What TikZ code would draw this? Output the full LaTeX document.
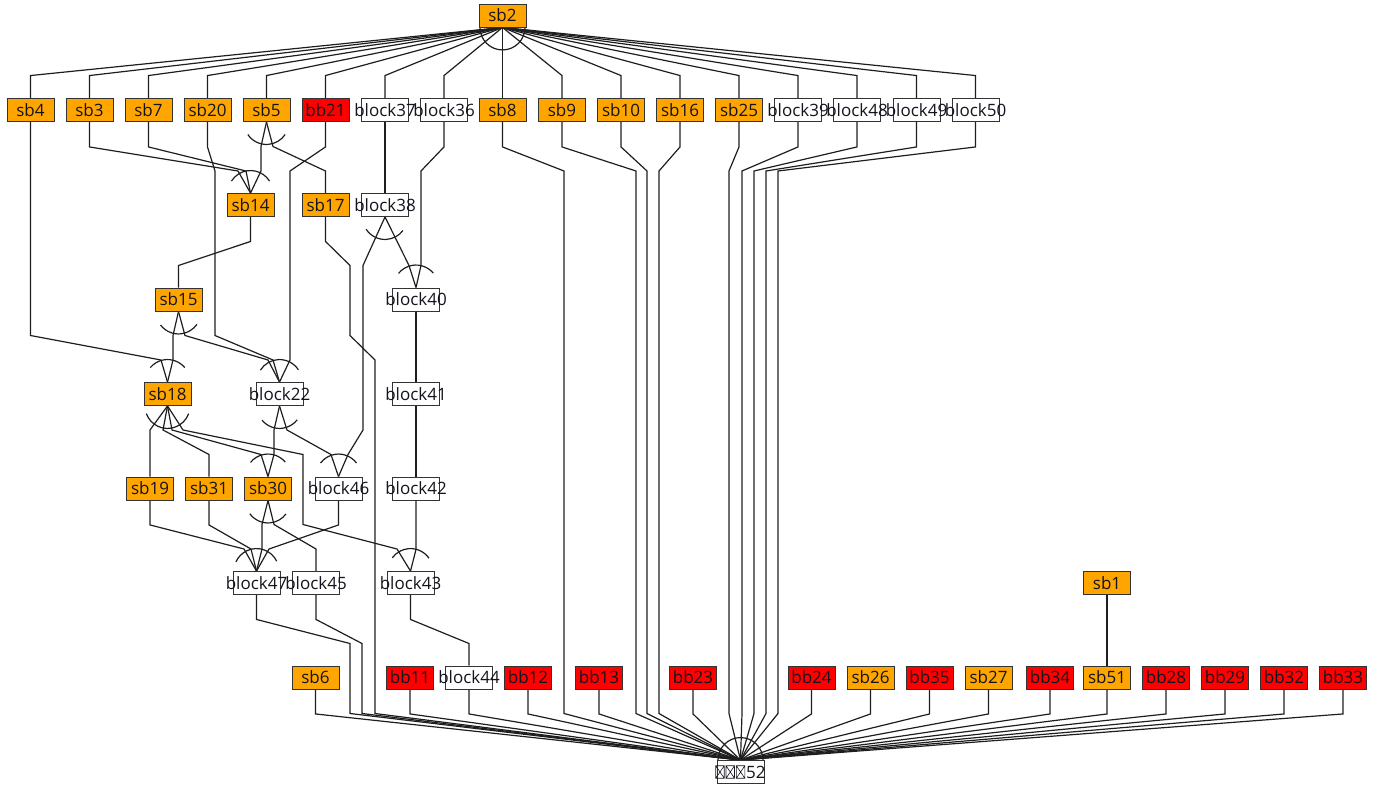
\documentclass[tikz,border=0pt]{standalone}
\usepackage{fontspec}
\setmainfont{Open Sans}
\usetikzlibrary{backgrounds}

\definecolor{sborange}{HTML}{FFA500}
\definecolor{bbred}{HTML}{FF0000}
\definecolor{boxline}{HTML}{333333}
\definecolor{wirecol}{HTML}{1E1E1E}
\definecolor{labeltext}{HTML}{14141E}

\newcommand{\lbl}[1]{\makebox[0pt]{#1}}
\newcommand{\tofu}{\tikz[x=1pt,y=1pt,baseline=0pt]\draw[line width=0.6pt] (0,0) rectangle (8.5,12.5) (0,0) -- (8.5,12.5) (0,12.5) -- (8.5,0);}
\newcommand{\fan}[3]{\draw[link] (#1) ++(#2:22.5pt) arc[start angle=#2, end angle=#3, radius=22.5pt];}

\begin{document}
\begin{tikzpicture}[x=1pt,y=1pt]
\tikzset{
  cfgnode/.style={rectangle,draw=boxline,line width=0.9pt,minimum width=47pt,minimum height=23pt,inner sep=0pt,font=\fontsize{17}{19}\selectfont,text=labeltext},
  sbblock/.style={cfgnode,fill=sborange},
  bbblock/.style={cfgnode,fill=bbred},
  plainblock/.style={cfgnode,fill=white},
  link/.style={draw=wirecol,line width=1.2pt}
}
\useasboundingbox (0,0) rectangle (1378,-784);

% entry
\node[sbblock] (sb2) at (502.5,-15.5) {sb2};
% first row
\node[sbblock] (sb4) at (30.5,-110) {sb4};
\node[sbblock] (sb3) at (89.5,-110) {sb3};
\node[sbblock] (sb7) at (148.5,-110) {sb7};
\node[sbblock] (sb20) at (207.5,-110) {sb20};
\node[sbblock] (sb5) at (266.5,-110) {sb5};
\node[bbblock] (bb21) at (325.5,-110) {bb21};
\node[plainblock] (block37) at (385,-110) {\lbl{block37}};
\node[plainblock] (block36) at (444,-110) {\lbl{block36}};
\node[sbblock] (sb8) at (502.5,-110) {sb8};
\node[sbblock] (sb9) at (562,-110) {sb9};
\node[sbblock] (sb10) at (621,-110) {sb10};
\node[sbblock] (sb16) at (680,-110) {sb16};
\node[sbblock] (sb25) at (739,-110) {sb25};
\node[plainblock] (block39) at (798,-110) {\lbl{block39}};
\node[plainblock] (block48) at (857,-110) {\lbl{block48}};
\node[plainblock] (block49) at (916.5,-110) {\lbl{block49}};
\node[plainblock] (block50) at (975.5,-110) {\lbl{block50}};
% middle rows
\node[sbblock] (sb14) at (250.5,-205) {sb14};
\node[sbblock] (sb17) at (325.5,-205) {sb17};
\node[plainblock] (block38) at (385,-205) {\lbl{block38}};
\node[sbblock] (sb15) at (178.5,-299.5) {sb15};
\node[plainblock] (block40) at (416,-299.5) {\lbl{block40}};
\node[sbblock] (sb18) at (167.5,-394) {sb18};
\node[plainblock] (block22) at (279.5,-394) {\lbl{block22}};
\node[plainblock] (block41) at (416,-394) {\lbl{block41}};
\node[sbblock] (sb19) at (150,-488.5) {sb19};
\node[sbblock] (sb31) at (209,-488.5) {sb31};
\node[sbblock] (sb30) at (268,-488.5) {sb30};
\node[plainblock] (block46) at (338.5,-488.5) {\lbl{block46}};
\node[plainblock] (block42) at (416,-488.5) {\lbl{block42}};
\node[plainblock] (block47) at (256.5,-583) {\lbl{block47}};
\node[plainblock] (block45) at (316,-583) {\lbl{block45}};
\node[plainblock] (block43) at (410.5,-583) {\lbl{block43}};
\node[sbblock] (sb1) at (1107,-583) {sb1};
% last row
\node[sbblock] (sb6) at (315.5,-677.5) {sb6};
\node[bbblock] (bb11) at (410,-677.5) {bb11};
\node[plainblock] (block44) at (469,-677.5) {\lbl{block44}};
\node[bbblock] (bb12) at (528,-677.5) {bb12};
\node[bbblock] (bb13) at (599,-677.5) {bb13};
\node[bbblock] (bb23) at (693,-677.5) {bb23};
\node[bbblock] (bb24) at (811.5,-677.5) {bb24};
\node[sbblock] (sb26) at (870.5,-677.5) {sb26};
\node[bbblock] (bb35) at (929.5,-677.5) {bb35};
\node[sbblock] (sb27) at (988.5,-677.5) {sb27};
\node[bbblock] (bb34) at (1050,-677.5) {bb34};
\node[sbblock] (sb51) at (1107,-677.5) {sb51};
\node[bbblock] (bb28) at (1166,-677.5) {bb28};
\node[bbblock] (bb29) at (1225,-677.5) {bb29};
\node[bbblock] (bb32) at (1284,-677.5) {bb32};
\node[bbblock] (bb33) at (1343,-677.5) {bb33};
% exit
\node[plainblock] (n52) at (740.5,-772) {\lbl{\tofu\kern1.2pt\tofu\kern1.2pt\tofu\kern1pt 52}};

\begin{scope}[on background layer]
% fan into sb2
\draw[link] (sb4.north) -- ++(0,22.5) -- (sb2.south);
\draw[link] (sb3.north) -- ++(0,22.5) -- (sb2.south);
\draw[link] (sb7.north) -- ++(0,22.5) -- (sb2.south);
\draw[link] (sb20.north) -- ++(0,22.5) -- (sb2.south);
\draw[link] (sb5.north) -- ++(0,22.5) -- (sb2.south);
\draw[link] (bb21.north) -- ++(0,22.5) -- (sb2.south);
\draw[link] (block37.north) -- ++(0,22.5) -- (sb2.south);
\draw[link] (block36.north) -- ++(0,22.5) -- (sb2.south);
\draw[link] (sb8.north) -- (sb2.south);
\draw[link] (sb9.north) -- ++(0,22.5) -- (sb2.south);
\draw[link] (sb10.north) -- ++(0,22.5) -- (sb2.south);
\draw[link] (sb16.north) -- ++(0,22.5) -- (sb2.south);
\draw[link] (sb25.north) -- ++(0,22.5) -- (sb2.south);
\draw[link] (block39.north) -- ++(0,22.5) -- (sb2.south);
\draw[link] (block48.north) -- ++(0,22.5) -- (sb2.south);
\draw[link] (block49.north) -- ++(0,22.5) -- (sb2.south);
\draw[link] (block50.north) -- ++(0,22.5) -- (sb2.south);
% below the first row
\draw[link] (sb3.south) -- ++(0,-25) -- (238,-171) -- (sb14.north);
\draw[link] (sb7.south) -- ++(0,-25) -- (246,-171) -- (sb14.north);
\draw[link] (sb5.south) -- (261,-146.5) -- (261,-171) -- (sb14.north);
\draw[link] (sb5.south) -- (273,-146.5) -- (325.5,-171) -- (sb17.north);
\draw[link] (sb4.south) -- (30.5,-335.5) -- (161,-360) -- (sb18.north);
\draw[link] (sb20.south) -- ++(0,-25) -- (215,-171) -- (215,-335.5) -- (273,-360) -- (block22.north);
\draw[link] (bb21.south) -- ++(0,-25) -- (290,-171) -- (290,-360) -- (block22.north);
\draw[link] (block37.south) -- (block38.north);
\draw[link] (block36.south) -- ++(0,-25) -- (421,-171) -- (421,-265.5) -- (block40.north);
\draw[link] (sb8.south) -- ++(0,-25) -- (564,-171) -- (564,-713.5) -- (n52.north);
\draw[link] (sb9.south) -- ++(0,-25) -- (636,-171) -- (636,-713.5) -- (n52.north);
\draw[link] (sb10.south) -- ++(0,-25) -- (647,-171) -- (647,-713.5) -- (n52.north);
\draw[link] (sb16.south) -- ++(0,-25) -- (659,-171) -- (659,-713.5) -- (n52.north);
\draw[link] (sb25.south) -- ++(0,-25) -- (729,-171) -- (729,-713.5) -- (n52.north);
\draw[link] (block39.south) -- ++(0,-25) -- (742,-171) -- (742,-713.5) -- (n52.north);
\draw[link] (block48.south) -- ++(0,-25) -- (754,-171) -- (754,-713.5) -- (n52.north);
\draw[link] (block49.south) -- ++(0,-25) -- (766,-171) -- (766,-713.5) -- (n52.north);
\draw[link] (block50.south) -- ++(0,-25) -- (778,-171) -- (778,-713.5) -- (n52.north);
% second row
\draw[link] (sb14.south) -- ++(0,-24.5) -- (178.5,-265.5) -- (sb15.north);
\draw[link] (sb17.south) -- ++(0,-24.5) -- (350,-265.5) -- (350,-335.5) -- (375,-360) -- (375,-713.5) -- (n52.north);
\draw[link] (block38.south) -- (409,-265.5) -- (block40.north);
\draw[link] (block38.south) -- (363,-265.5) -- (363,-430) -- (348,-454.5) -- (block46.north);
% third row
\draw[link] (sb15.south) -- (173,-335.5) -- (173,-360) -- (sb18.north);
\draw[link] (sb15.south) -- (185,-335.5) -- (268,-360) -- (block22.north);
\draw[link] (block40.south) -- (block41.north);
% fourth row
\draw[link] (block41.south) -- (block42.north);
\draw[link] (sb18.south) -- (150,-430) -- (sb19.north);
\draw[link] (sb18.south) -- (163,-430) -- (209,-454.5) -- (sb31.north);
\draw[link] (sb18.south) -- (172,-430) -- (261,-454.5) -- (sb30.north);
\draw[link] (sb18.south) -- (183,-430) -- (303,-454.5) -- (303,-524.5) -- (397,-549) -- (block43.north);
\draw[link] (block22.south) -- (274,-430) -- (274,-454.5) -- (sb30.north);
\draw[link] (block22.south) -- (287,-430) -- (331,-454.5) -- (block46.north);
% fifth row
\draw[link] (sb19.south) -- ++(0,-24.5) -- (244,-549) -- (block47.north);
\draw[link] (sb31.south) -- ++(0,-24.5) -- (251,-549) -- (block47.north);
\draw[link] (sb30.south) -- (262,-524.5) -- (262,-549) -- (block47.north);
\draw[link] (sb30.south) -- (274,-524.5) -- (316,-549) -- (block45.north);
\draw[link] (block46.south) -- ++(0,-24.5) -- (269,-549) -- (block47.north);
\draw[link] (block42.south) -- ++(0,-49) -- (block43.north);
% sixth row
\draw[link] (block47.south) -- ++(0,-24.5) -- (350,-643.5) -- (350,-713.5) -- (n52.north);
\draw[link] (block45.south) -- ++(0,-24.5) -- (362,-643.5) -- (362,-713.5) -- (n52.north);
\draw[link] (block43.south) -- ++(0,-24.5) -- (469,-643.5) -- (block44.north);
\draw[link] (sb1.south) -- (sb51.north);
% fan into the exit
\draw[link] (sb6.south) -- ++(0,-24.5) -- (n52.north);
\draw[link] (bb11.south) -- ++(0,-24.5) -- (n52.north);
\draw[link] (block44.south) -- ++(0,-24.5) -- (n52.north);
\draw[link] (bb12.south) -- ++(0,-24.5) -- (n52.north);
\draw[link] (bb13.south) -- ++(0,-24.5) -- (n52.north);
\draw[link] (bb23.south) -- ++(0,-24.5) -- (n52.north);
\draw[link] (bb24.south) -- ++(0,-24.5) -- (n52.north);
\draw[link] (sb26.south) -- ++(0,-24.5) -- (n52.north);
\draw[link] (bb35.south) -- ++(0,-24.5) -- (n52.north);
\draw[link] (sb27.south) -- ++(0,-24.5) -- (n52.north);
\draw[link] (bb34.south) -- ++(0,-24.5) -- (n52.north);
\draw[link] (sb51.south) -- ++(0,-24.5) -- (n52.north);
\draw[link] (bb28.south) -- ++(0,-24.5) -- (n52.north);
\draw[link] (bb29.south) -- ++(0,-24.5) -- (n52.north);
\draw[link] (bb32.south) -- ++(0,-24.5) -- (n52.north);
\draw[link] (bb33.south) -- ++(0,-24.5) -- (n52.north);
% port arcs
\fan{sb2.south}{180}{360}
\fan{sb5.south}{-146}{-34}
\fan{sb14.north}{32}{148}
\fan{sb15.south}{-143}{-35}
\fan{sb18.north}{40}{140}
\fan{block22.north}{33}{148}
\fan{block38.south}{-147}{-37}
\fan{block40.north}{40}{141}
\fan{sb18.south}{-160}{-20}
\fan{block22.south}{-141}{-38}
\fan{sb30.north}{40}{141}
\fan{block46.north}{37}{143}
\fan{sb30.south}{-144}{-37}
\fan{block47.north}{26}{156}
\fan{block43.north}{35}{144}
\fan{n52.north}{0}{180}
\end{scope}
\end{tikzpicture}
\end{document}
